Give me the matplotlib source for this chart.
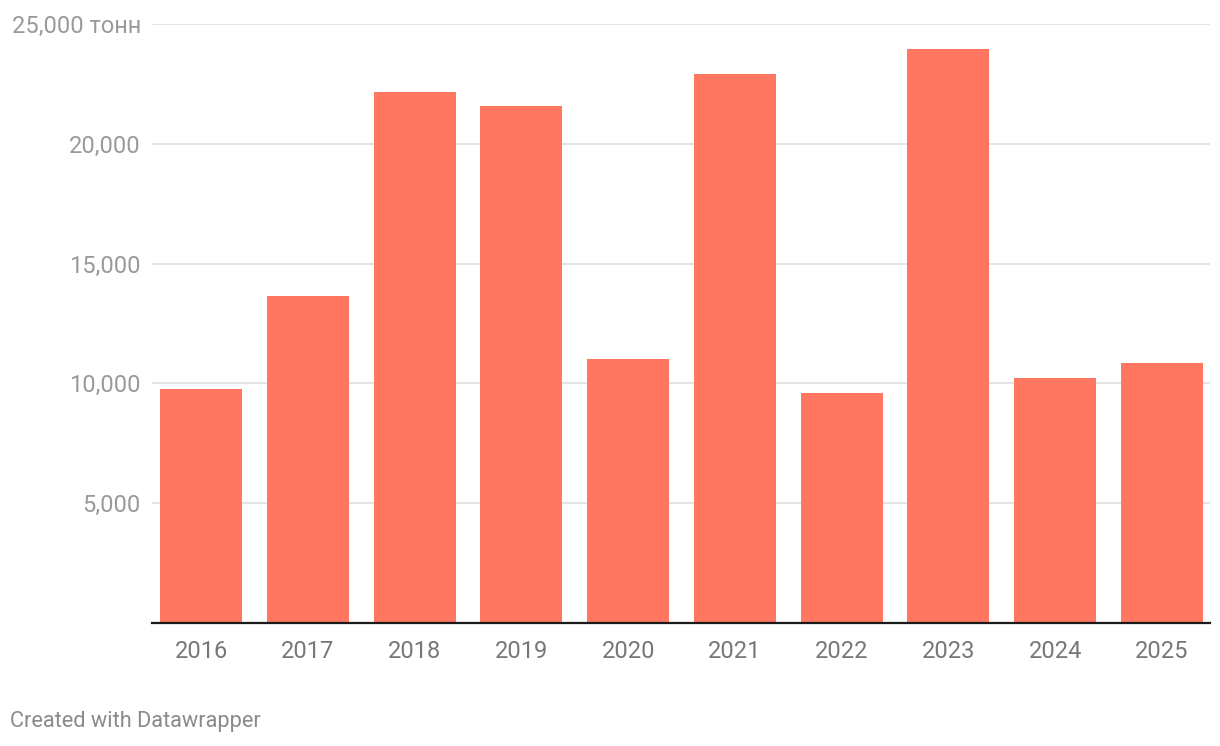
import numpy as np
import matplotlib
matplotlib.use('Agg')
from matplotlib import pyplot as plt

years = ['2016', '2017', '2018', '2019', '2020', '2021', '2022', '2023', '2024', '2025']
tonnes = [9750, 13650, 22160, 21580, 11020, 22910, 9600, 23960, 10230, 10850]
y_ticks = [5000, 10000, 15000, 20000, 25000]
y_labels = ['5,000', '10,000', '15,000', '20,000', '25,000 тонн']

plt.rcParams['font.family'] = ['Roboto', 'DejaVu Sans']

fig = plt.figure(figsize=(12.2, 7.46), dpi=100)
ax = fig.add_axes([152 / 1220, 123 / 746, 1058 / 1220, 599 / 746])

x = np.arange(len(years))
ax.bar(x, tonnes, width=0.768, color='#ff7661', zorder=2)

ax.set_xlim(-0.46, 9.45)
ax.set_ylim(0, 25000)

# grid and axes
ax.set_yticks(y_ticks)
ax.set_yticklabels(y_labels)
ax.grid(axis='y', color='#e2e2e2', linewidth=1.3, zorder=0)
ax.set_axisbelow(True)
ax.axhline(0, color='#1a1a1a', linewidth=1.6, zorder=3, clip_on=False)

for side in ['top', 'right', 'left', 'bottom']:
    ax.spines[side].set_visible(False)

ax.set_xticks(x)
ax.set_xticklabels(years)
ax.tick_params(axis='x', length=0, pad=12, labelsize=17, labelcolor='#777777')
ax.tick_params(axis='y', length=0, pad=8, labelsize=17, labelcolor='#9a9a9a')

fig.text(10 / 1220, 1 - 722 / 746, 'Created with Datawrapper', fontsize=15.7,
         color='#8a8a8a', ha='left', va='center')

plt.savefig('out.png', dpi=100)
